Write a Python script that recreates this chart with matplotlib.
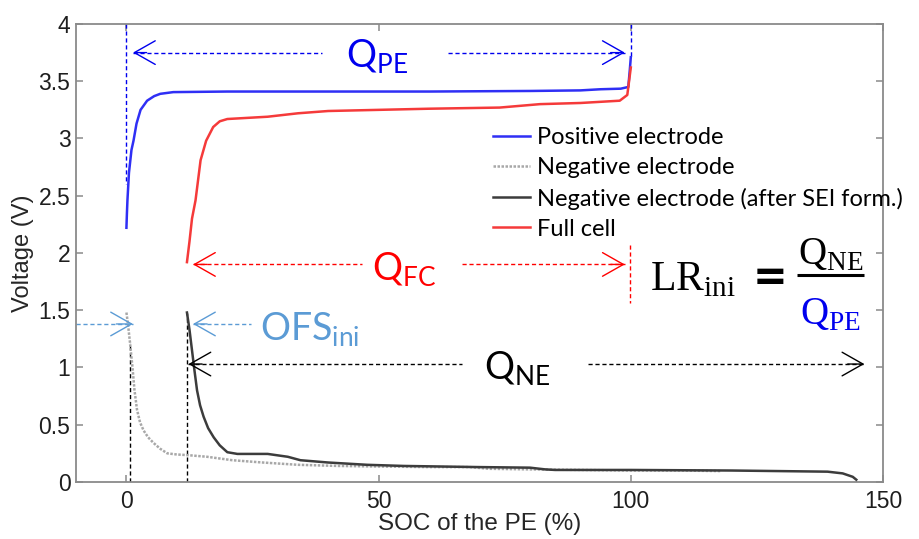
import matplotlib
matplotlib.use("Agg")
import matplotlib.pyplot as plt

# ----------------------------------------------------------
# Curves (SOC of the PE in %, voltage in V)
# ----------------------------------------------------------

soc_pe = [0, 0.1, 0.2, 0.5, 1.0, 1.4, 2.0, 2.8, 4.1, 5.5, 6.7, 9.3, 20, 40,
          60, 80, 90, 94, 98, 99.5, 99.8, 100]
v_pe = [2.22, 2.35, 2.46, 2.7, 2.9, 2.98, 3.13, 3.25, 3.33, 3.37, 3.39, 3.405,
        3.41, 3.41, 3.41, 3.415, 3.42, 3.43, 3.435, 3.45, 3.6, 3.71]

soc_ne = [0, 0.3, 0.7, 1.2, 1.6, 2.1, 2.7, 3.4, 4.3, 5.4, 6.7, 8.1, 10, 12,
          16, 21, 27, 34, 42, 50, 60, 68, 72, 80, 90, 100, 110, 118]
v_ne = [1.48, 1.38, 1.22, 1.0, 0.8, 0.63, 0.52, 0.45, 0.39, 0.34, 0.29, 0.25,
        0.24, 0.235, 0.22, 0.19, 0.17, 0.15, 0.14, 0.135, 0.13, 0.13, 0.115,
        0.11, 0.105, 0.10, 0.10, 0.095]

soc_sei = [12, 12.5, 13, 13.5, 14, 14.6, 15.3, 16.2, 17.3, 18.5, 20, 22, 28,
           32, 34.5, 40, 47.7, 55, 70, 80, 83, 85, 100, 120, 139, 142, 144,
           144.7]
v_sei = [1.48, 1.33, 1.15, 0.97, 0.80, 0.67, 0.57, 0.47, 0.39, 0.32, 0.26,
         0.245, 0.245, 0.22, 0.19, 0.17, 0.15, 0.14, 0.13, 0.125, 0.11, 0.105,
         0.105, 0.10, 0.09, 0.075, 0.045, 0.02]

soc_fc = [12.0, 12.5, 13.0, 13.7, 14.7, 15.8, 17.2, 18.5, 20, 24, 28, 34, 40,
          50, 60, 74, 82, 90, 97.8, 99.3, 100]
v_fc = [1.92, 2.1, 2.3, 2.46, 2.81, 2.98, 3.10, 3.15, 3.17, 3.18, 3.19, 3.22,
        3.24, 3.25, 3.26, 3.27, 3.30, 3.31, 3.33, 3.38, 3.62]

x_ticks = [0, 50, 100, 150]
y_ticks = [0, 0.5, 1, 1.5, 2, 2.5, 3, 3.5, 4]
y_tick_labels = ["0", "0.5", "1", "1.5", "2", "2.5", "3", "3.5", "4"]

labels = ["Positive electrode", "Negative electrode",
          "Negative electrode (after SEI form.)", "Full cell"]

# ----------------------------------------------------------
# Figure
# ----------------------------------------------------------

plt.rcParams["font.family"] = "Liberation Sans"
plt.rcParams["mathtext.fontset"] = "custom"
plt.rcParams["mathtext.rm"] = "Liberation Serif"
plt.rcParams["mathtext.sf"] = "Lato"

fig = plt.figure(figsize=(9.2, 5.39), dpi=100)
ax = fig.add_axes([0.0826, 0.1058, 0.8772, 0.8497])

blue = "#2f2ff5"
red = "#f53a3a"
light_blue = "#5b9bd5"

l_pe, = ax.plot(soc_pe, v_pe, color=blue, lw=1.8, zorder=4)
l_ne, = ax.plot(soc_ne, v_ne, color="#a8a8a8", lw=1.8, ls=(0, (1, 0.6)), zorder=3)
l_sei, = ax.plot(soc_sei, v_sei, color="#3c3c3c", lw=1.8, zorder=4)
l_fc, = ax.plot(soc_fc, v_fc, color=red, lw=1.8, zorder=4)

ax.set_xlim(-10, 150)
ax.set_ylim(0, 4)
ax.set_xticks(x_ticks)
ax.set_yticks(y_ticks)
ax.set_yticklabels(y_tick_labels)

for s in ax.spines.values():
    s.set_color("#8a8a8a")
    s.set_linewidth(1.3)
ax.tick_params(direction="in", length=5, width=1.1, color="#8a8a8a",
               labelsize=16.5, labelcolor="#1e1e1e", top=True, right=True)
ax.tick_params(axis="y", pad=4)
ax.tick_params(axis="x", pad=6)

ax.set_xlabel("SOC of the PE (%)", fontsize=17.5, color="#262626", labelpad=0)
ax.set_ylabel("Voltage (V)", fontsize=17, color="#262626", labelpad=3)

# ----------------------------------------------------------
# Guide lines and capacity arrows
# ----------------------------------------------------------

dash = (0, (3, 2))


def guide(x0, x1, y0, y1, color):
    ax.plot([x0, x1], [y0, y1], color=color, lw=1.0, ls=dash, zorder=2)


def head(x_tip, x_from, y, color):
    ax.annotate("", xy=(x_tip, y), xytext=(x_from, y),
                arrowprops=dict(arrowstyle="->,head_length=15,head_width=8.5",
                                mutation_scale=1, color=color, lw=1.0,
                                shrinkA=0, shrinkB=0), zorder=5)


# vertical markers
guide(0, 0, 4, 2.6, "#0000ee")
guide(100, 100, 4, 3.7, "#0000ee")
guide(99.8, 99.8, 2.07, 1.56, "#ff0000")
guide(0.8, 0.8, 0, 1.21, "black")
guide(12, 12, 0, 1.48, "black")

# Q_PE
guide(1.3, 38.8, 3.75, 3.75, "#0000ee")
guide(63.8, 98.8, 3.75, 3.75, "#0000ee")
head(1.3, 4, 3.75, "#0000ee")
head(98.8, 96, 3.75, "#0000ee")
ax.text(49.7, 3.71, r"$\mathsf{Q}_{\mathsf{PE}}$", color="#0000ee",
        fontsize=27, ha="center", va="center")

# Q_FC
guide(13.2, 46.7, 1.90, 1.90, "#ff0000")
guide(66.5, 98.8, 1.90, 1.90, "#ff0000")
head(13.2, 16, 1.90, "#ff0000")
head(98.8, 96, 1.90, "#ff0000")
ax.text(55.0, 1.85, r"$\mathsf{Q}_{\mathsf{FC}}$", color="#ff0000",
        fontsize=27, ha="center", va="center")

# OFS_ini
guide(-10, 1.3, 1.38, 1.38, light_blue)
guide(13.2, 24.6, 1.38, 1.38, light_blue)
head(1.3, -2, 1.38, light_blue)
head(13.2, 16, 1.38, light_blue)
ax.text(36.3, 1.33, r"$\mathsf{OFS}_{\mathsf{ini}}$", color=light_blue,
        fontsize=27, ha="center", va="center")

# Q_NE
guide(12.3, 66.5, 1.03, 1.03, "black")
guide(91.5, 146.3, 1.03, 1.03, "black")
head(12.3, 15, 1.03, "black")
head(146.3, 143, 1.03, "black")
ax.text(77.4, 0.99, r"$\mathsf{Q}_{\mathsf{NE}}$", color="black",
        fontsize=27, ha="center", va="center")

# LR_ini = Q_NE / Q_PE
ax.text(103.8, 1.675, r"$\mathrm{LR}_{\mathrm{ini}}$", color="black",
        fontsize=30, ha="left", va="baseline")
ax.text(127.6, 1.675, "=", color="black", fontsize=30, fontweight="bold",
        family="DejaVu Sans", ha="center", va="baseline")
ax.text(139.6, 1.894, r"$\mathrm{Q}_{\mathrm{NE}}$", color="black",
        fontsize=28, ha="center", va="baseline")
ax.text(139.6, 1.37, r"$\mathrm{Q}_{\mathrm{PE}}$", color="#0000ee",
        fontsize=28, ha="center", va="baseline")
ax.plot([132.9, 146.3], [1.806, 1.806], color="black", lw=2.2,
        solid_capstyle="butt")

# ----------------------------------------------------------
# Legend
# ----------------------------------------------------------

leg = ax.legend([l_pe, l_ne, l_sei, l_fc], labels, loc="upper left",
                bbox_to_anchor=(0.517, 0.775), frameon=False, borderpad=0,
                borderaxespad=0, handlelength=1.55, handletextpad=0.3,
                labelspacing=0.39, prop={"family": "Lato", "size": 17})

fig.savefig("out.png", dpi=100)
